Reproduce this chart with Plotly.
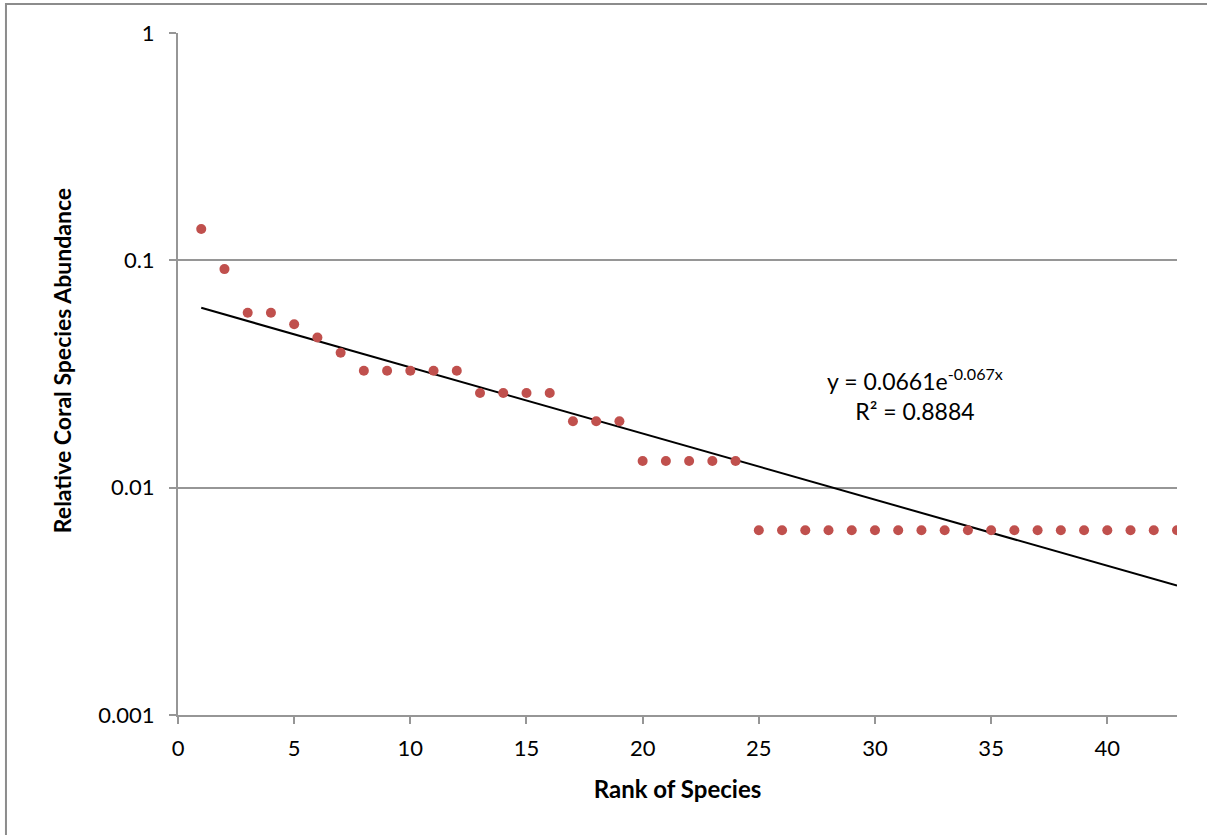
import plotly.graph_objects as go
import math

# Data
rank = list(range(1, 44))
abundance = [0.1373, 0.0915, 0.0588, 0.0588, 0.0523, 0.0458, 0.0392,
             0.0327, 0.0327, 0.0327, 0.0327, 0.0327,
             0.0261, 0.0261, 0.0261, 0.0261,
             0.0196, 0.0196, 0.0196,
             0.0131, 0.0131, 0.0131, 0.0131, 0.0131,
             0.0065, 0.0065, 0.0065, 0.0065, 0.0065, 0.0065, 0.0065,
             0.0065, 0.0065, 0.0065, 0.0065, 0.0065, 0.0065, 0.0065,
             0.0065, 0.0065, 0.0065, 0.0065, 0.0065]

# Exponential trendline coefficients (as shown on the chart)
trend_a = 0.0661
trend_b = -0.067
r_squared = 0.8884
trend_y = [trend_a * math.exp(trend_b * x) for x in rank]

y_tickvals = [0.001, 0.01, 0.1, 1]
y_ticktext = ["0.001", "0.01", "0.1", "1"]
x_tickvals = [0, 5, 10, 15, 20, 25, 30, 35, 40]

FONT = "Lato"
GRID = "#969696"

fig = go.Figure()
fig.add_trace(go.Scatter(x=rank, y=trend_y, mode="lines",
                         line=dict(color="black", width=2), showlegend=False,
                         hoverinfo="skip"))
fig.add_trace(go.Scatter(x=rank, y=abundance, mode="markers",
                         marker=dict(color="#C0504D", size=10), showlegend=False))

fig.update_layout(
    width=1207, height=835,
    margin=dict(l=178, r=30, t=33, b=120),
    paper_bgcolor="white", plot_bgcolor="white",
    font=dict(family=FONT, size=22, color="black"),
    xaxis=dict(range=[0, 43], tickvals=x_tickvals, showgrid=False,
               showline=True, linecolor=GRID, linewidth=2,
               ticks="outside", ticklen=7, tickcolor=GRID, tickwidth=2,
               ticklabelstandoff=6,
               zeroline=False, tickfont=dict(size=22),
               title=dict(text="<b>Rank of Species</b>", font=dict(size=24), standoff=21)),
    yaxis=dict(type="log", range=[-3, 0], tickvals=y_tickvals, ticktext=y_ticktext,
               showgrid=True, gridcolor=GRID, gridwidth=2,
               showline=True, linecolor=GRID, linewidth=2,
               ticks="outside", ticklen=7, tickcolor=GRID, tickwidth=2,
               ticklabelstandoff=10,
               zeroline=False, tickfont=dict(size=22)),
    annotations=[
        dict(xref="paper", yref="paper", x=0.738, y=0.47,
             xanchor="center", yanchor="middle",
             text=f"y = {trend_a}e<sup>{trend_b}x</sup><br>R² = {r_squared}",
             showarrow=False, align="center", font=dict(size=23, family=FONT)),
        dict(xref="paper", yref="paper", x=-0.116, y=0.519,
             xanchor="center", yanchor="middle", textangle=-90,
             text="<b>Relative Coral Species Abundance</b>",
             showarrow=False, font=dict(size=23, family=FONT)),
    ],
    shapes=[dict(type="rect", xref="paper", yref="paper",
                 x0=-0.1722, x1=1.2, y0=-0.4, y1=1.0425,
                 line=dict(color="#8c8c8c", width=2), fillcolor="rgba(0,0,0,0)")],
)

fig.write_html("out.html")
